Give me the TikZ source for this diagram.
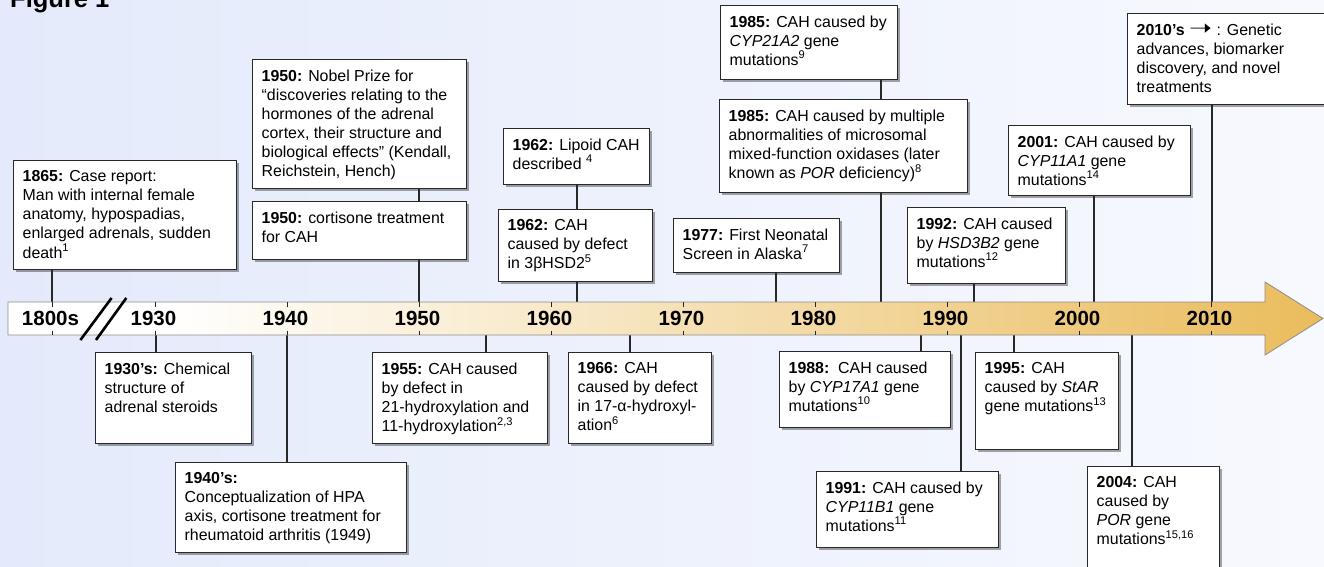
\documentclass[tikz,border=0pt]{standalone}
\usepackage{fontspec}
\setmainfont{Liberation Sans}
\newfontfamily\djv{DejaVu Sans}
\usetikzlibrary{shadows}
\definecolor{bgL}{RGB}{228,234,251}
\definecolor{bgR}{RGB}{247,249,254}
\definecolor{goldR}{RGB}{234,188,92}
\definecolor{lineC}{RGB}{40,40,40}
\pgfdeclarehorizontalshading{arrowsh}{100bp}{color(0bp)=(white); color(25bp)=(white); color(31bp)=(white); color(75bp)=(goldR); color(100bp)=(goldR)}
\tikzset{
  evbox/.style={draw=lineC, line width=1.1pt, fill=white, inner sep=0pt, anchor=north west,
    drop shadow={shadow xshift=2pt, shadow yshift=-2pt, fill=black, opacity=0.35}},
  evtext/.style={anchor=north west, inner sep=0pt, align=left,
    font=\fontsize{15.9}{19.1}\selectfont, execute at begin node={\rule{0pt}{11pt}}},
  conn/.style={draw=lineC, line width=1.1pt},
  yearlab/.style={font=\bfseries\fontsize{20.5}{22}\selectfont, inner sep=0pt},
  tickmark/.style={draw=black!85, line width=1pt},
}
\newcommand\evt[6]{%
  \node[evbox, minimum width={(#4-#2)*1pt}, minimum height={(#5-#3)*1pt}] (#1) at (#2,#3) {};
  \node[evtext] (#1t) at ([xshift=9.5pt, yshift=-10.3pt]#1.north west) {#6};
}
\begin{document}
\begin{tikzpicture}[x=1pt,y=-1pt]
\useasboundingbox (0,0) rectangle (1324,567);
\clip (0,0) rectangle (1324,567);
\fill[left color=bgL, right color=bgR] (0,0) rectangle (1324,567);

% events above the axis
\evt{e1865}{13}{160}{236}{269}{\textbf{1865:} Case report:\\Man with internal female\\anatomy, hypospadias,\\enlarged adrenals, sudden\\death\textsuperscript{1}}
\evt{e1950n}{252}{59}{466}{188}{\textbf{1950:} Nobel Prize for\\“discoveries relating to the\\hormones of the adrenal\\cortex, their structure and\\biological effects” (Kendall,\\Reichstein, Hench)}
\evt{e1950c}{252}{201}{466}{259}{\textbf{1950:} cortisone treatment\\for CAH}
\evt{e1962l}{503}{128}{649}{184}{\textbf{1962:} Lipoid CAH\\described \textsuperscript{4}}
\evt{e1962c}{498}{209}{652}{281}{\textbf{1962:} CAH\\caused by defect\\in 3βHSD2\textsuperscript{5}}
\evt{e1977}{673}{218}{839}{272}{\textbf{1977:} First Neonatal\\Screen in Alaska\textsuperscript{7}}
\evt{e1985a}{720}{5}{897}{79}{\textbf{1985:} CAH caused by\\\textit{CYP21A2} gene\\mutations\textsuperscript{9}}
\evt{e1985b}{719}{99}{967}{192}{\textbf{1985:} CAH caused by multiple\\abnormalities of microsomal\\mixed-function oxidases (later\\known as \textit{POR} deficiency)\textsuperscript{8}}
\evt{e1992}{907}{207}{1065}{283}{\textbf{1992:} CAH caused\\by \textit{HSD3B2} gene\\mutations\textsuperscript{12}}
\evt{e2001}{1008}{125}{1190}{195}{\textbf{2001:} CAH caused by\\\textit{CYP11A1} gene\\mutations\textsuperscript{14}}
\evt{e2010}{1127}{13}{1330}{104}{\textbf{2010’s} {\djv\fontsize{22}{15}\selectfont\scalebox{1.25}[1]{➝}} : Genetic\\advances, biomarker\\discovery, and novel\\treatments}

% events below the axis
\evt{e1930}{95}{352}{251}{443}{\textbf{1930’s:} Chemical\\structure of\\adrenal steroids}
\evt{e1940}{175}{462}{406}{552}{\textbf{1940’s:}\\Conceptualization of HPA\\axis, cortisone treatment for\\rheumatoid arthritis (1949)}
\evt{e1955}{372}{352}{547}{443}{\textbf{1955:} CAH caused\\by defect in\\21-hydroxylation and\\11-hydroxylation\textsuperscript{2,3}}
\evt{e1966}{568}{352}{711}{443}{\textbf{1966:} CAH\\caused by defect\\in 17-α-hydroxyl-\\ation\textsuperscript{6}}
\evt{e1988}{779}{351}{950}{427}{\textbf{1988:}\ \ CAH caused\\by \textit{CYP17A1} gene\\mutations\textsuperscript{10}}
\evt{e1991}{816}{471}{998}{547}{\textbf{1991:} CAH caused by\\\textit{CYP11B1} gene\\mutations\textsuperscript{11}}
\evt{e1995}{975}{352}{1118}{449}{\textbf{1995:} CAH\\caused by \textit{StAR}\\gene mutations\textsuperscript{13}}
\evt{e2004}{1087}{466}{1219}{590}{\textbf{2004:} CAH\\caused by\\\textit{POR} gene\\mutations\textsuperscript{15,16}}

% attachment points on the axis
\coordinate (t1865) at (52,302);
\coordinate (t1950) at (419,302);
\coordinate (t1962) at (577,302);
\coordinate (t1977) at (776,302);
\coordinate (t1985) at (881,302);
\coordinate (t1992) at (974,302);
\coordinate (t2001) at (1094,302);
\coordinate (t2010) at (1212,302);
\coordinate (b1930) at (156,335);
\coordinate (b1940) at (287,335);
\coordinate (b1955) at (486,335);
\coordinate (b1966) at (630,335);
\coordinate (b1988) at (921,335);
\coordinate (b1991) at (961,335);
\coordinate (b1995) at (1014,335);
\coordinate (b2004) at (1132,335);

% connectors
\draw[conn] (e1865.south -| t1865) -- (t1865);
\draw[conn] (e1950n.south -| t1950) -- (e1950c.north -| t1950);
\draw[conn] (e1950c.south -| t1950) -- (t1950);
\draw[conn] (e1962l.south -| t1962) -- (e1962c.north -| t1962);
\draw[conn] (e1962c.south -| t1962) -- (t1962);
\draw[conn] (e1977.south -| t1977) -- (t1977);
\draw[conn] (e1985a.south -| t1985) -- (e1985b.north -| t1985);
\draw[conn] (e1985b.south -| t1985) -- (t1985);
\draw[conn] (e1992.south -| t1992) -- (t1992);
\draw[conn] (e2001.south -| t2001) -- (t2001);
\draw[conn] (e2010.south -| t2010) -- (t2010);
\draw[conn] (b1930) -- (e1930.north -| b1930);
\draw[conn] (b1940) -- (e1940.north -| b1940);
\draw[conn] (b1955) -- (e1955.north -| b1955);
\draw[conn] (b1966) -- (e1966.north -| b1966);
\draw[conn] (b1988) -- (e1988.north -| b1988);
\draw[conn] (b1991) -- (e1991.north -| b1991);
\draw[conn] (b1995) -- (e1995.north -| b1995);
\draw[conn] (b2004) -- (e2004.north -| b2004);

% the time axis arrow
\draw[draw=black!45, line width=0.8pt, shading=arrowsh]
  (8,302) -- (1265,302) -- (1265,282) -- (1323,318.5) -- (1265,355) -- (1265,335) -- (8,335) -- cycle;
\foreach \xx/\lab/\nm in {52/1800s/y1800, 155/1930/y1930, 287/1940/y1940, 419/1950/y1950,
  551/1960/y1960, 683/1970/y1970, 815/1980/y1980, 947/1990/y1990, 1079/2000/y2000, 1211/2010/y2010} {
  \draw[tickmark] (\xx,302) -- (\xx,306.5);
  \draw[tickmark] (\xx,330.5) -- (\xx,335);
  \node[yearlab] (\nm) at (\xx-1.5,318.5) {\lab};
}
\draw[line width=2.6pt, black] (80.4,340) -- (111.6,298);
\draw[line width=2.6pt, black] (96,340) -- (126.3,298);

\node[anchor=base west, inner sep=0pt, font=\bfseries\fontsize{25.5}{27}\selectfont] (fig) at (10,7.5) {Figure 1};
\end{tikzpicture}
\end{document}
